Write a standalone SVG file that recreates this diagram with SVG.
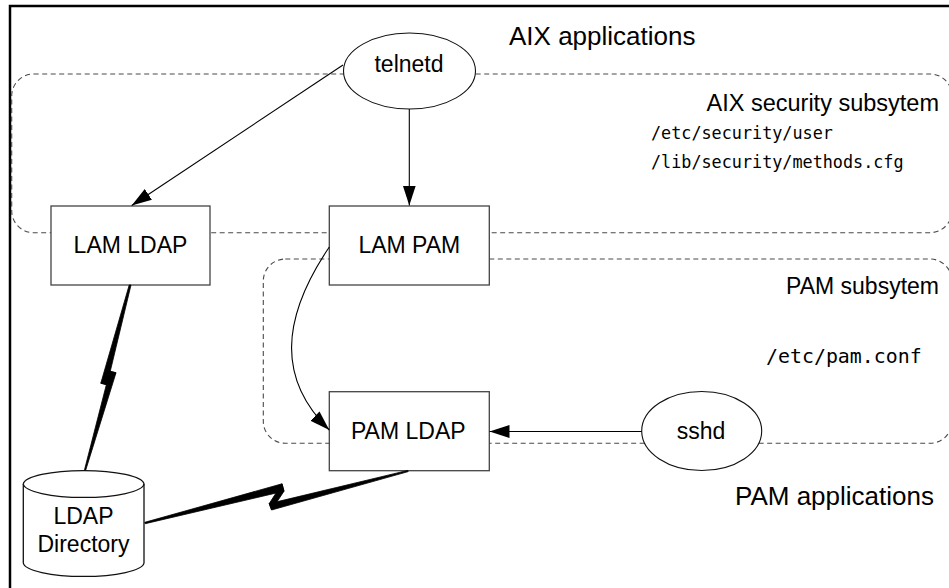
<svg xmlns="http://www.w3.org/2000/svg" width="949" height="588" viewBox="0 0 949 588">
<style>
.lbl{font-family:"Liberation Sans",Arial,Helvetica,sans-serif;font-size:23px;fill:#000;text-anchor:middle}
.big{font-family:"Liberation Sans",Arial,Helvetica,sans-serif;font-size:26px;fill:#000}
.sub{font-family:"Liberation Sans",Arial,Helvetica,sans-serif;font-size:23.5px;fill:#000;text-anchor:end}
.mono{font-family:"DejaVu Sans Mono","Liberation Mono",monospace;font-size:19.9px;fill:#000}
.mono2{font-family:"DejaVu Sans Mono","Liberation Mono",monospace;font-size:16.8px;fill:#000}
.region{fill:none;stroke:#4a4a4a;stroke-width:1.1;stroke-dasharray:5 3.5}
.box{fill:#fff;stroke:#444;stroke-width:1.3}
.ell{fill:#fff;stroke:#111;stroke-width:1.1}
.edge{fill:none;stroke:#000;stroke-width:1.1}
.bolt{fill:#000;stroke:#000;stroke-width:0.8;stroke-linejoin:round}
</style>
<defs>
<marker id="ah" markerUnits="userSpaceOnUse" markerWidth="22" markerHeight="14" refX="20" refY="6.5" orient="auto">
<path d="M0,0 L20,6.5 L0,13 z" fill="#000"/>
</marker>
</defs>
<rect width="949" height="588" fill="#fff"/>
<g id="frame">
<path d="M10,588 L10,6 L949,6" fill="none" stroke="#000" stroke-width="2.5"/>
</g>
<g id="regions">
<rect class="region" x="11.7" y="74" width="940.3" height="158.7" rx="22" ry="22"/>
<rect class="region" x="263.3" y="259" width="688.7" height="184.3" rx="22" ry="22"/>
<text class="big" x="509" y="45">AIX applications</text>
<text class="sub" x="939" y="110.5">AIX security subsytem</text>
<text class="mono2" x="651" y="139">/etc/security/user</text>
<text class="mono2" x="651" y="167.5">/lib/security/methods.cfg</text>
<text class="sub" x="939" y="293.5" style="font-size:23px">PAM subsytem</text>
<text class="mono" x="766" y="363">/etc/pam.conf</text>
<text class="big" x="735" y="505">PAM applications</text>
</g>
<g id="telnetd">
<ellipse class="ell" cx="409.5" cy="71" rx="66" ry="38"/>
<text class="lbl" x="409" y="72">telnetd</text>
</g>
<g id="lam-ldap">
<rect class="box" x="51" y="206" width="159" height="79"/>
<text class="lbl" x="130.5" y="253">LAM LDAP</text>
</g>
<g id="lam-pam">
<rect class="box" x="329.3" y="206" width="160" height="79"/>
<text class="lbl" x="409.3" y="253">LAM PAM</text>
</g>
<g id="pam-ldap">
<rect class="box" x="329.3" y="391.7" width="160" height="79"/>
<text class="lbl" x="408.3" y="438.5">PAM LDAP</text>
</g>
<g id="sshd">
<ellipse class="ell" cx="701.7" cy="431" rx="60" ry="39.5"/>
<text class="lbl" x="701" y="438.5">sshd</text>
</g>
<g id="ldap-directory">
<path d="M23.3,484 L23.3,563 A60.4,14 0 0 0 144,563 L144,484 A60.4,14 0 0 0 23.3,484 Z" fill="#fff" stroke="#111" stroke-width="1.3"/>
<path d="M23.3,484 A60.4,14 0 0 0 144,484" fill="none" stroke="#111" stroke-width="1.3"/>
<text class="lbl" x="83.5" y="524">LDAP</text>
<text class="lbl" x="83.5" y="552">Directory</text>
</g>
<g id="connectors">
<line class="edge" x1="343" y1="65" x2="131.7" y2="205.5" marker-end="url(#ah)"/>
<line class="edge" x1="409.3" y1="109" x2="409.3" y2="205.5" marker-end="url(#ah)"/>
<path class="edge" d="M329.3,247 C280,320 278,380 329.3,430" marker-end="url(#ah)"/>
<line class="edge" x1="641.7" y1="431.5" x2="489.5" y2="431.5" marker-end="url(#ah)"/>
<g class="bolt">
<polygon points="129.2,285 131,285 107,384.8 100.8,383.2"/>
<polygon points="100.8,383.2 107,384.8 116,372.8 109.8,371.2"/>
<polygon points="109.8,371.2 116,372.8 85.7,470.2 84.5,469.8"/>
<polygon points="144.8,522.3 145.2,523.7 284,491.2 282,483.8"/>
<polygon points="282,483.8 284,491.2 271.6,510 269.2,503.6"/>
<polygon points="269.2,503.6 271.6,510 408.2,471.6 407.8,470.4"/>
</g>
</g>
</svg>
